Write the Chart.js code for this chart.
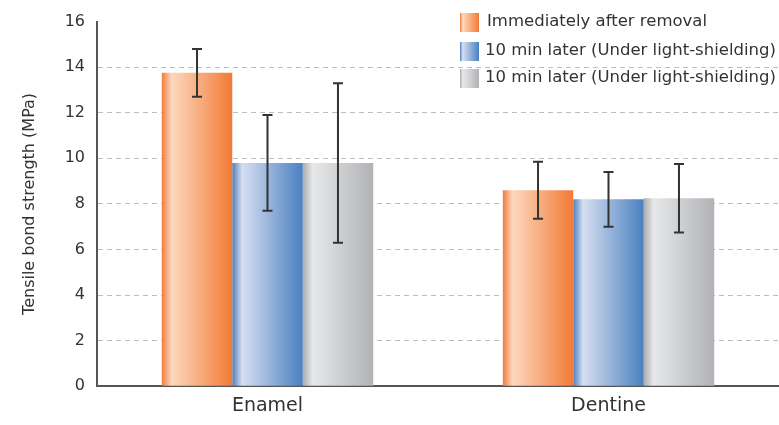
<!DOCTYPE html>
<html>
<head>
<meta charset="utf-8">
<script src="https://cdn.jsdelivr.net/npm/chart.js@4/dist/chart.umd.min.js"></script>
<style>
  html, body { margin: 0; padding: 0; background: #fff; }
  #wrap { width: 779px; height: 425px; }
</style>
</head>
<body>
<div id="wrap"><canvas id="tbsChart"></canvas></div>
<script>
const categories = ["Enamel", "Dentine"];
const seriesNames = [
  "Immediately after removal",
  "10 min later (Under light-shielding)",
  "10 min later (Under light-shielding)"
];
const immediateValues = [13.75, 8.6];
const immediateErrors = [1.05, 1.25];
const blueValues = [9.8, 8.2];
const blueErrors = [2.1, 1.2];
const greyValues = [9.8, 8.25];
const greyErrors = [3.5, 1.5];
const yTicks = [0, 2, 4, 6, 8, 10, 12, 14, 16];

// gradient stops: left edge, highlight, right edge
const gradStops = [
  ["#f17b3b", "#fdd8bd", "#f27a36"],
  ["#4c80c2", "#d6dff1", "#4a80c0"],
  ["#a9abae", "#e7e8e9", "#b0b2b5"]
];
const errorSets = [immediateErrors, blueErrors, greyErrors];
const FONT = "'DejaVu Sans', sans-serif";
const CAT_PCT = 0.62;

function makeGradient(ctx, x0, x1, stops) {
  const g = ctx.createLinearGradient(x0, 0, x1, 0);
  g.addColorStop(0, stops[0]);
  g.addColorStop(0.14, stops[1]);
  g.addColorStop(1, stops[2]);
  return g;
}

// each bar gets its own horizontal gradient, placed from the x scale
function barColour(c) {
  const chart = c.chart;
  const xs = chart.scales.x;
  if (!xs || !xs.width) return gradStops[c.datasetIndex][2];
  const n = chart.data.datasets.length;
  const catW = xs.width / chart.data.labels.length;
  const barW = catW * CAT_PCT / n;
  const centre = xs.getPixelForValue(c.dataIndex) + (c.datasetIndex - (n - 1) / 2) * barW;
  return makeGradient(chart.ctx, centre - barW / 2, centre + barW / 2, gradStops[c.datasetIndex]);
}

const errorBars = {
  id: "errorBars",
  afterDatasetsDraw(chart) {
    const ctx = chart.ctx;
    const y = chart.scales.y;
    ctx.save();
    ctx.strokeStyle = "#333";
    ctx.lineWidth = 2;
    chart.data.datasets.forEach((ds, i) => {
      chart.getDatasetMeta(i).data.forEach((bar, j) => {
        const v = ds.data[j];
        const e = errorSets[i][j];
        const top = y.getPixelForValue(v + e);
        const bot = y.getPixelForValue(v - e);
        ctx.beginPath();
        ctx.moveTo(bar.x, top);
        ctx.lineTo(bar.x, bot);
        ctx.moveTo(bar.x - 5, top);
        ctx.lineTo(bar.x + 5, top);
        ctx.moveTo(bar.x - 5, bot);
        ctx.lineTo(bar.x + 5, bot);
        ctx.stroke();
      });
    });
    ctx.restore();
  }
};

const legendBoxes = {
  id: "legendBoxes",
  afterDraw(chart) {
    const ctx = chart.ctx;
    ctx.save();
    ctx.font = "16.5px " + FONT;
    ctx.textBaseline = "middle";
    const rowsY = [22, 51, 78];
    seriesNames.forEach((name, i) => {
      const bx = 460, by = rowsY[i] - 9;
      ctx.fillStyle = makeGradient(ctx, bx, bx + 19, gradStops[i]);
      ctx.fillRect(bx, by, 19, 19);
      ctx.fillStyle = "#333";
      ctx.fillText(name, i === 0 ? 487 : 485, rowsY[i]);
    });
    ctx.restore();
  }
};

new Chart(document.getElementById("tbsChart"), {
  type: "bar",
  data: {
    labels: categories,
    datasets: [
      { label: seriesNames[0], data: immediateValues, backgroundColor: barColour },
      { label: seriesNames[1], data: blueValues, backgroundColor: barColour },
      { label: seriesNames[2], data: greyValues, backgroundColor: barColour }
    ]
  },
  options: {
    responsive: true,
    maintainAspectRatio: false,
    animation: false,
    devicePixelRatio: 1,
    layout: { padding: { top: 7, right: 0, left: 0, bottom: 0 } },
    datasets: {
      bar: { categoryPercentage: CAT_PCT, barPercentage: 1.0, borderWidth: 0 }
    },
    plugins: {
      colors: { enabled: false },
      legend: { display: false },
      tooltip: { enabled: false }
    },
    scales: {
      x: {
        grid: { display: false, drawTicks: false },
        border: { color: "#555", width: 2 },
        ticks: {
          color: "#333",
          font: { family: FONT, size: 19 },
          padding: 8
        }
      },
      y: {
        min: 0,
        max: 16,
        afterBuildTicks(scale) {
          scale.ticks = yTicks.map(v => ({ value: v }));
        },
        afterFit(scale) { scale.width = 97; },
        grid: {
          color(c) { return c.tick.value === 0 || c.tick.value === 16 ? "rgba(0,0,0,0)" : "#bdbdbd"; },
          lineWidth: 1,
          drawTicks: false
        },
        border: { color: "#555", width: 2, dash: [5, 4] },
        ticks: {
          color: "#333",
          padding: 12,
          font: { family: FONT, size: 16 }
        },
        title: {
          display: true,
          text: "Tensile bond strength (MPa)",
          color: "#333",
          padding: { top: 20, bottom: 8 },
          font: { family: FONT, size: 16 }
        }
      }
    }
  },
  plugins: [errorBars, legendBoxes]
});
</script>
</body>
</html>
